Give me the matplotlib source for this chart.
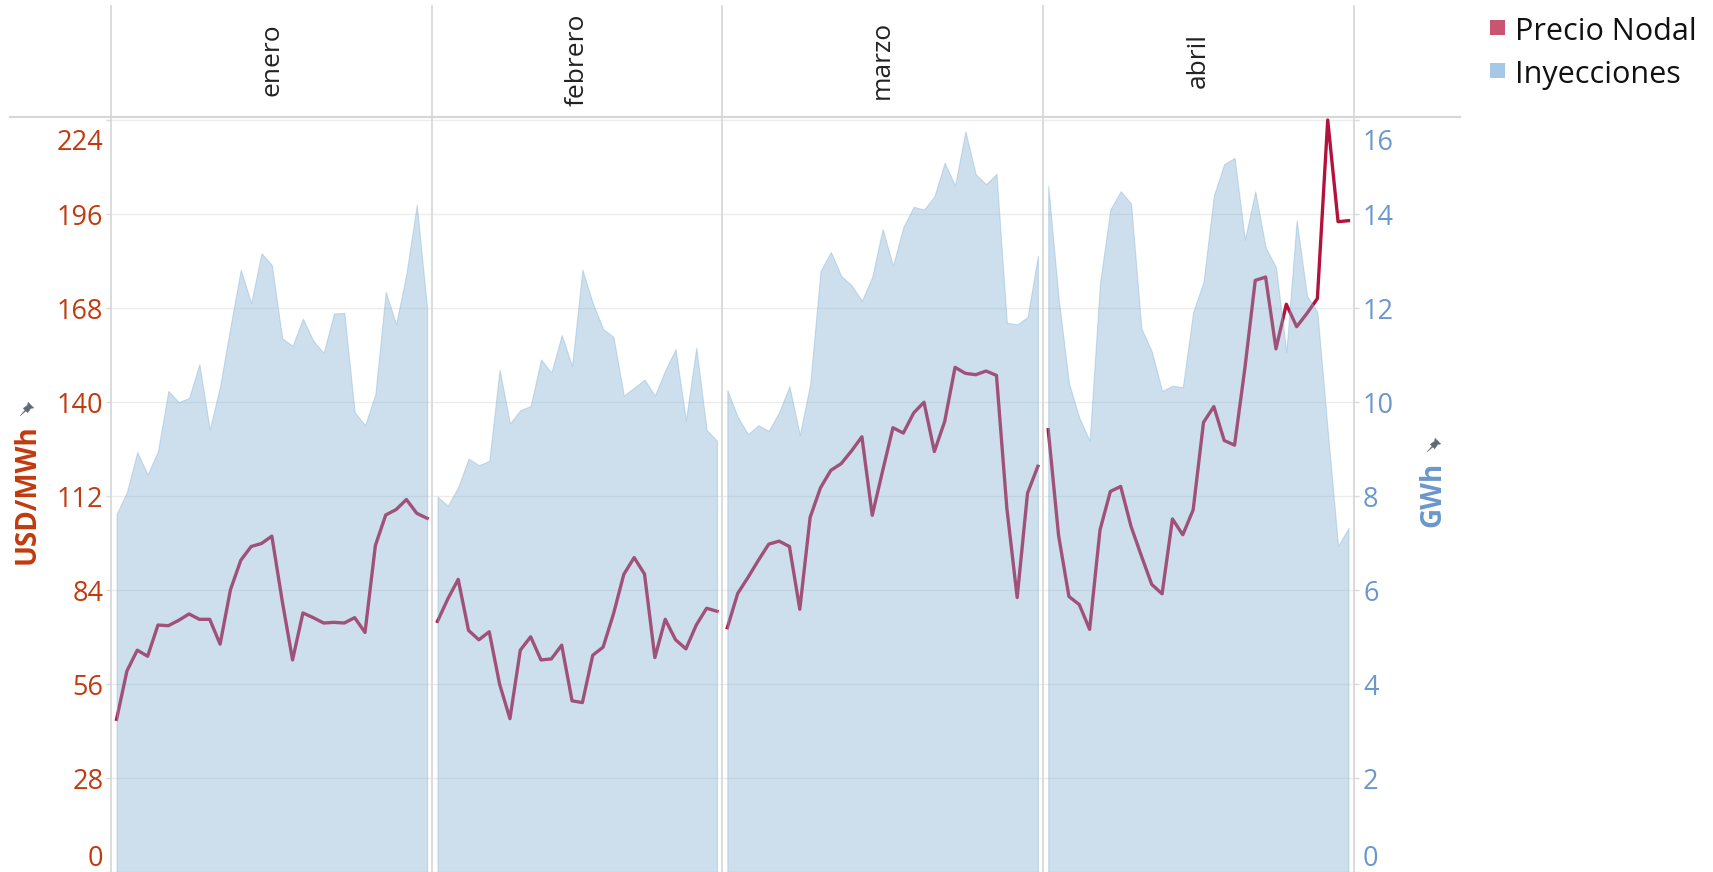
import numpy as np
import matplotlib
matplotlib.use("Agg")
import matplotlib.pyplot as plt
from matplotlib.lines import Line2D
from matplotlib.patches import Rectangle
from matplotlib.path import Path
from matplotlib.markers import MarkerStyle
from matplotlib.transforms import Affine2D, ScaledTranslation

plt.rcParams['font.family'] = ['Open Sans', 'DejaVu Sans']

# daily values per month (price in USD/MWh, injections in GWh)
meses = ["enero", "febrero", "marzo", "abril"]

enero_precio = [45.5, 59.9, 66.1, 64.3, 73.6, 73.4, 75.0, 76.9, 75.3, 75.3, 67.9, 84.1, 92.9, 97.0, 97.9,
                100.1, 80.8, 63.2, 77.2, 75.8, 74.2, 74.4, 74.2, 75.8, 71.4, 97.3, 106.4, 108.0, 111.0, 106.9, 105.4]
febrero_precio = [74.7, 81.4, 87.2, 72.0, 69.2, 71.6, 56.0, 45.7, 66.1, 70.1, 63.2, 63.5, 67.6, 51.0,
                  50.5, 64.6, 67.0, 76.9, 88.7, 93.7, 88.8, 63.9, 75.3, 69.2, 66.5, 73.6, 78.6, 77.7]
marzo_precio = [72.8, 83.0, 87.8, 92.9, 97.7, 98.6, 97.0, 78.3, 105.7, 114.5, 119.7, 121.7, 125.5, 129.7, 106.3,
                119.5, 132.4, 130.8, 136.8, 140.0, 125.3, 134.3, 150.4, 148.6, 148.2, 149.3, 148.0, 108.5, 81.8, 112.9, 120.9]
abril_precio = [131.8, 100.3, 82.1, 79.7, 72.3, 101.9, 113.4, 114.9, 103.0, 94.2, 85.7, 82.9, 105.2, 100.5, 107.9,
                134.0, 138.7, 128.6, 127.2, 150.2, 176.3, 177.3, 155.9, 169.2, 162.5, 166.5, 170.9, 224.1, 193.8, 194.1]

enero_iny = [7.62, 8.09, 8.94, 8.46, 8.96, 10.24, 10.00, 10.09, 10.81, 9.42, 10.34, 11.61, 12.82, 12.11, 13.17,
             12.92, 11.36, 11.20, 11.78, 11.31, 11.05, 11.89, 11.90, 9.79, 9.51, 10.17, 12.35, 11.66, 12.74, 14.20, 11.99]
febrero_iny = [7.99, 7.80, 8.19, 8.80, 8.66, 8.75, 10.69, 9.55, 9.83, 9.92, 10.91, 10.63, 11.43, 10.77,
               12.82, 12.11, 11.56, 11.39, 10.14, 10.31, 10.48, 10.14, 10.68, 11.13, 9.61, 11.16, 9.41, 9.18]
marzo_iny = [10.26, 9.69, 9.32, 9.51, 9.39, 9.79, 10.34, 9.30, 10.38, 12.79, 13.20, 12.69, 12.49, 12.16, 12.67,
             13.69, 12.91, 13.73, 14.16, 14.10, 14.38, 15.10, 14.61, 15.77, 14.85, 14.64, 14.86, 11.69, 11.66, 11.81, 13.12]
abril_iny = [14.61, 12.22, 10.41, 9.67, 9.18, 12.53, 14.10, 14.49, 14.23, 11.57, 11.08, 10.24, 10.35, 10.32, 11.92,
             12.56, 14.40, 15.07, 15.20, 13.46, 14.49, 13.30, 12.87, 11.07, 13.87, 12.26, 11.92, 9.39, 6.94, 7.32]

precios = [enero_precio, febrero_precio, marzo_precio, abril_precio]
inyecciones = [enero_iny, febrero_iny, marzo_iny, abril_iny]

usd_ticks = [0, 28, 56, 84, 112, 140, 168, 196, 224]
gwh_ticks = [0, 2, 4, 6, 8, 10, 12, 14, 16]
ratio = 14.0  # 16 GWh lines up with 224 USD/MWh

C_LINE = "#b4123e"
C_AREA = "#82b1d4"
C_USD = "#c23a0e"
C_GWH = "#6a97cc"
C_DIV = "#d6d6d6"

W, H = 1713, 872
fig = plt.figure(figsize=(W / 100, H / 100), dpi=100)

def fx(px):
    return px / W

def fy(py):
    return 1 - py / H

ax_l, ax_r, ax_t = 111.4, 1353.6, 117
ax = fig.add_axes([fx(ax_l), 0, fx(ax_r) - fx(ax_l), fy(ax_t)])
ax2 = ax.twinx()

ymin, ymax = 0.7, 225.0
total = sum(len(p) for p in precios)
ax.set_xlim(-0.5, total - 0.5)
ax.set_ylim(ymin, ymax)
ax2.set_ylim(ymin / ratio, ymax / ratio)

start = 0
bounds = [-0.5]
for nombre, pr, iy in zip(meses, precios, inyecciones):
    x = np.arange(start, start + len(pr))
    ax.plot(x, pr, color=C_LINE, lw=2.4, zorder=2, solid_joinstyle='round')
    ax.fill_between(x, 0, np.array(iy) * ratio, color=C_AREA, alpha=0.4, lw=0.8, zorder=3)
    start += len(pr)
    bounds.append(start - 0.5)

# panel dividers and month headers
top_ext = 1 + (ax_t - 6) / (H * fy(ax_t))
for b in bounds:
    ax.axvline(b, 0, top_ext, color=C_DIV, lw=1.2, clip_on=False, zorder=1)
for i, nombre in enumerate(meses):
    xc = (bounds[i] + bounds[i + 1]) / 2
    ax.text(xc, 1 + (ax_t - 60) / (H * fy(ax_t)), nombre, transform=ax.get_xaxis_transform(),
            rotation=90, ha='center', va='center', fontsize=19, color='#222222')
fig.add_artist(Line2D([fx(10), fx(1460)], [fy(ax_t), fy(ax_t)], transform=fig.transFigure,
                      color=C_DIV, lw=1.5))

# axes styling
for a in (ax, ax2):
    for s in a.spines.values():
        s.set_visible(False)
ax.set_xticks([])
ax.set_axisbelow(True)
ax.grid(axis='y', color='#ececec', lw=1)

ax.set_yticks(usd_ticks, [str(t) for t in usd_ticks])
ax.tick_params(axis='y', length=3.6, width=1, color='#d9d9d9', pad=2.2,
               labelsize=19.5, labelcolor=C_USD)
ax2.set_yticks(gwh_ticks, [str(t) for t in gwh_ticks])
ax2.tick_params(axis='y', length=3.6, width=1, color='#d9d9d9', pad=3.2,
                labelsize=19.5, labelcolor=C_GWH)
# end labels pushed inside the plot area, as Tableau does
for a in (ax, ax2):
    labs = a.get_yticklabels()
    labs[0].set_transform(labs[0].get_transform() + ScaledTranslation(0, 12 / 72, fig.dpi_scale_trans))
    labs[-1].set_transform(labs[-1].get_transform() + ScaledTranslation(0, -13.5 / 72, fig.dpi_scale_trans))

fig.text(fx(27), fy(494), "USD/MWh", rotation=90, ha='center', va='center',
         fontsize=20, fontweight='bold', color=C_USD)
fig.text(fx(1433), fy(494), "GWh", rotation=90, ha='center', va='center',
         fontsize=20, fontweight='bold', color=C_GWH)

# small pin icons next to the axis titles
pin = Path([(-0.35, 0.15), (0.35, 0.15), (0.25, 0.75), (0.45, 1.0), (-0.45, 1.0), (-0.25, 0.75),
            (-0.35, 0.15), (-0.06, 0.15), (0.0, -0.7), (0.06, 0.15)],
           [Path.MOVETO, Path.LINETO, Path.LINETO, Path.LINETO, Path.LINETO, Path.LINETO,
            Path.CLOSEPOLY, Path.MOVETO, Path.LINETO, Path.LINETO])
pin_marker = MarkerStyle(pin, transform=Affine2D().rotate_deg(-45))
for px, py in [(24, 411), (1431, 447)]:
    fig.add_artist(Line2D([fx(px)], [fy(py)], marker=pin_marker, markersize=13, color='#5f6b76',
                          markeredgewidth=0.3, transform=fig.transFigure))

# legend
leg = [("Precio Nodal", "#c85672", 27.5), ("Inyecciones", "#a6c8e4", 70.5)]
for txt, col, yc in leg:
    fig.add_artist(Rectangle((fx(1490), fy(yc + 7.5)), 15 / W, 15 / H,
                             transform=fig.transFigure, color=col, lw=0))
    fig.text(fx(1515), fy(yc + 4), txt, ha='left', va='center', fontsize=22, color='#111111')

fig.savefig("out.png", dpi=100)
